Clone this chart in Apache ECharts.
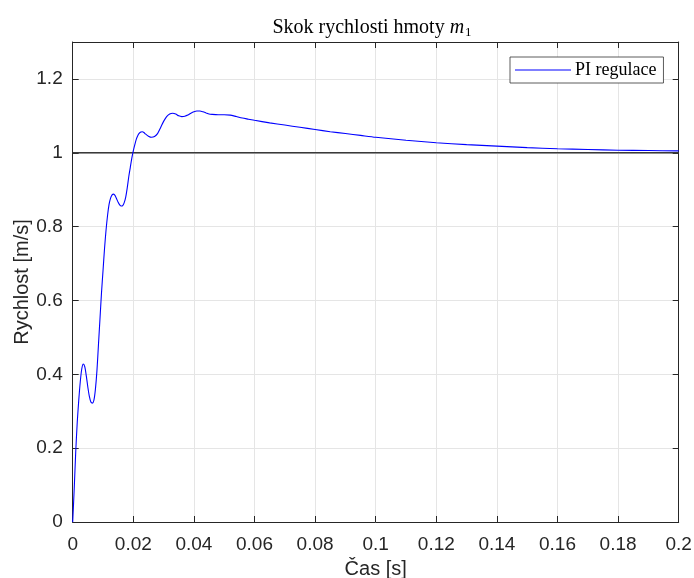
<!DOCTYPE html>
<html>
<head>
<meta charset="utf-8">
<script src="https://cdn.jsdelivr.net/npm/echarts@6/dist/echarts.min.js"></script>
<style>html,body{margin:0;padding:0;background:#fff;}#c{width:694px;height:578px;}</style>
</head>
<body>
<div id="c"></div>
<script>
var timeValues = [0,0.0005,0.001,0.0015,0.002,0.0025,0.003,0.0035,0.004,0.0045,0.005,0.0055,0.006,0.0065,0.007,0.0075,0.008,0.0085,0.009,0.0095,0.010,0.0105,0.011,0.0115,0.012,0.0125,0.013,0.0135,0.014,0.0145,0.015,0.0155,0.016,0.0165,0.017,0.0175,0.018,0.0185,0.019,0.0195,0.020,0.0205,0.021,0.0215,0.022,0.0225,0.023,0.0235,0.024,0.025,0.026,0.027,0.028,0.029,0.030,0.031,0.032,0.033,0.034,0.035,0.036,0.037,0.038,0.039,0.040,0.041,0.042,0.043,0.044,0.045,0.046,0.048,0.050,0.052,0.054,0.056,0.058,0.060,0.065,0.070,0.075,0.080,0.085,0.090,0.095,0.100,0.110,0.120,0.130,0.140,0.150,0.160,0.170,0.180,0.190,0.200];
var speedValues = [0,0.09,0.19,0.27,0.33,0.38,0.415,0.428,0.42,0.395,0.365,0.34,0.325,0.322,0.33,0.36,0.41,0.48,0.55,0.62,0.68,0.74,0.79,0.83,0.86,0.877,0.886,0.888,0.884,0.875,0.866,0.859,0.856,0.857,0.865,0.88,0.905,0.935,0.96,0.985,1.005,1.022,1.037,1.047,1.053,1.056,1.057,1.055,1.051,1.045,1.042,1.044,1.052,1.068,1.085,1.098,1.105,1.107,1.105,1.100,1.098,1.099,1.102,1.107,1.111,1.113,1.113,1.111,1.108,1.105,1.104,1.103,1.103,1.102,1.098,1.094,1.091,1.088,1.081,1.075,1.069,1.063,1.057,1.052,1.047,1.042,1.034,1.027,1.022,1.018,1.014,1.011,1.009,1.007,1.006,1.005];
var referenceTimes = [0, 0.2];
var referenceValues = [1, 1];
var xTicks = [0,0.02,0.04,0.06,0.08,0.1,0.12,0.14,0.16,0.18,0.2];
var yTicks = [0,0.2,0.4,0.6,0.8,1,1.2];
var seriesName = 'PI regulace';

var pts = timeValues.map(function(t,i){return [t, speedValues[i]];});
var ref = referenceTimes.map(function(t,i){return [t, referenceValues[i]];});

var axisCol = '#262626';
var sans = 'Liberation Sans';
var chart = echarts.init(document.getElementById('c'));
var baseX = {
  type:'value', min:0, max:0.2, interval:0.02,
  axisLine:{show:true, onZero:false, lineStyle:{color:axisCol, width:1}},
  axisTick:{show:true, inside:true, length:6, lineStyle:{color:axisCol}},
  splitLine:{show:false}
};
var baseY = {
  type:'value', min:0, max:1.3, interval:0.2,
  axisLine:{show:true, onZero:false, lineStyle:{color:axisCol, width:1}},
  axisTick:{show:true, inside:true, length:6, lineStyle:{color:axisCol}},
  splitLine:{show:false}
};
chart.setOption({
  animation:false,
  backgroundColor:'#fff',
  title:{
    text:'Skok rychlosti hmoty {i|m}{s|1}',
    left:367, top:12, textAlign:'center',
    textStyle:{fontFamily:'Liberation Serif', fontSize:20, fontWeight:'normal', color:'#000',
      rich:{i:{fontFamily:'Liberation Serif', fontStyle:'italic', fontSize:20, color:'#000'},
            s:{fontFamily:'Liberation Serif', fontSize:13, color:'#000', padding:[9,0,0,1]}}}
  },
  grid:{left:72.7, right:15.3, top:42, bottom:56, containLabel:false, outerBoundsMode:'none'},
  legend:{
    data:[{name:seriesName, icon:'rect'}], left:510, top:57, orient:'vertical',
    backgroundColor:'#fff', borderColor:'#333', borderWidth:0.8,
    padding:[4,7,4,5], itemWidth:56, itemHeight:1.2, itemGap:0,
    textStyle:{fontFamily:'Liberation Serif', fontSize:18, color:'#000', padding:[0,0,0,-1]}
  },
  xAxis:[
    Object.assign({}, baseX, {
      position:'bottom',
      name:'Čas [s]', nameLocation:'middle', nameGap:37, nameMoveOverlap:false,
      nameTextStyle:{fontFamily:sans, fontSize:20, color:axisCol},
      axisLabel:{fontFamily:sans, fontSize:19, color:axisCol, margin:13,
        formatter:function(v){ var r=Math.round(v*100)/100; return xTicks.indexOf(r)>=0 ? String(r) : ''; }},
      splitLine:{show:true, lineStyle:{color:'#e5e5e5', width:1}}
    }),
    Object.assign({}, baseX, {position:'top', axisLabel:{show:false}})
  ],
  yAxis:[
    Object.assign({}, baseY, {
      position:'left',
      name:'Rychlost [m/s]', nameLocation:'middle', nameGap:40, nameRotate:90, nameMoveOverlap:false,
      nameTextStyle:{fontFamily:sans, fontSize:20, color:axisCol},
      axisLabel:{fontFamily:sans, fontSize:19, color:axisCol, margin:10,
        formatter:function(v){ var r=Math.round(v*10)/10; return yTicks.indexOf(r)>=0 ? String(r) : ''; }},
      splitLine:{show:true, lineStyle:{color:'#e5e5e5', width:1}}
    }),
    Object.assign({}, baseY, {position:'right', axisLabel:{show:false}})
  ],
  series:[
    {type:'line', name:'ref', data:ref, xAxisIndex:0, yAxisIndex:0, showSymbol:false, symbol:'none',
     lineStyle:{color:'#3a3a3a', width:1.6}, z:3, silent:true},
    {type:'line', name:seriesName, data:pts, xAxisIndex:0, yAxisIndex:0, showSymbol:false, symbol:'none',
     smooth:0.25, lineStyle:{color:'#0000ff', width:1.1}, itemStyle:{color:'#0000ff'}, z:4}
  ]
});
</script>
</body>
</html>
